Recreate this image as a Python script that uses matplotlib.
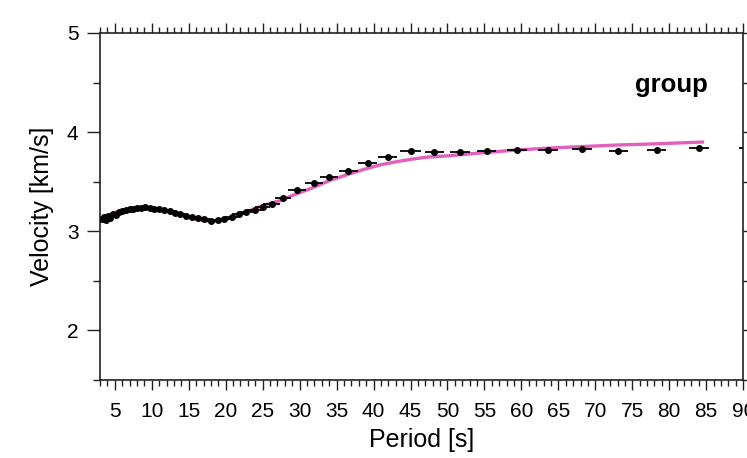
import numpy as np
import matplotlib
matplotlib.use("Agg")
import matplotlib.pyplot as plt
from matplotlib.ticker import MultipleLocator

# observed group velocities (period [s], velocity [km/s], half-width of period bar)
obs_period = [3.2, 3.5, 3.8, 4.1, 4.4, 4.8, 5.2, 5.6, 6.0, 6.5, 7.0, 7.5, 8.0,
              8.5, 9.1, 9.7, 10.3, 11.0, 11.7, 12.4, 13.1, 13.8, 14.6, 15.4,
              16.2, 17.1, 18.0, 18.9, 19.8, 20.8, 21.8, 22.8, 23.9, 25.0, 26.2,
              27.8, 29.6, 31.9, 34.0, 36.6, 39.2, 41.9, 45.0, 48.2, 51.7, 55.3,
              59.4, 63.6, 68.2, 73.1, 78.3, 84.0, 90.8]
obs_vel = [3.12, 3.14, 3.11, 3.15, 3.13, 3.17, 3.16, 3.19, 3.20, 3.21, 3.22,
           3.22, 3.23, 3.23, 3.24, 3.23, 3.22, 3.22, 3.21, 3.20, 3.18, 3.17,
           3.15, 3.14, 3.13, 3.12, 3.10, 3.11, 3.12, 3.14, 3.17, 3.19, 3.21,
           3.24, 3.28, 3.34, 3.42, 3.49, 3.55, 3.61, 3.69, 3.75, 3.81, 3.80,
           3.80, 3.81, 3.82, 3.82, 3.83, 3.81, 3.82, 3.84, 3.84]
obs_err = [0.4, 0.4, 0.4, 0.4, 0.4, 0.4, 0.4, 0.5, 0.5, 0.5, 0.5, 0.5, 0.5,
           0.5, 0.6, 0.6, 0.6, 0.6, 0.6, 0.7, 0.7, 0.7, 0.7, 0.7, 0.8, 0.8,
           0.8, 0.8, 0.9, 0.9, 0.9, 1.0, 1.0, 1.0, 1.1, 1.1, 1.2, 1.2, 1.2,
           1.25, 1.25, 1.25, 1.4, 1.3, 1.3, 1.3, 1.3, 1.3, 1.3, 1.3, 1.3,
           1.35, 1.4]

# predicted dispersion curve
model_period = [3, 4, 5, 6, 7, 8, 9, 10, 11, 12, 13, 14, 15, 16, 17, 18, 19,
                20, 21, 22, 23, 24, 25, 26, 27.4, 29, 31.8, 34, 36.4, 38.5,
                40.9, 43, 45.4, 47.5, 49.9, 54.4, 59.4, 64, 68.4, 73, 77.4,
                81, 84.5]
model_vel = [3.12, 3.16, 3.19, 3.21, 3.22, 3.23, 3.23, 3.22, 3.21, 3.20, 3.18,
             3.16, 3.14, 3.12, 3.11, 3.10, 3.11, 3.12, 3.14, 3.17, 3.20, 3.23,
             3.26, 3.28, 3.31, 3.36, 3.44, 3.51, 3.57, 3.62, 3.67, 3.70, 3.73,
             3.75, 3.76, 3.79, 3.82, 3.84, 3.855, 3.87, 3.88, 3.89, 3.90]

plt.rcParams['font.family'] = ['Liberation Sans', 'DejaVu Sans']

fig = plt.figure(figsize=(7.47, 4.58), dpi=100)
ax = fig.add_axes([0.1339, 0.1703, 0.861, 0.7577])

ax.plot(model_period, model_vel, color='#e35fbc', lw=2.4, zorder=2)
ax.errorbar(obs_period, obs_vel, xerr=obs_err, fmt='o', color='black',
            ms=4, elinewidth=1.3, capsize=0, zorder=3)

ax.set_xlim(3, 90)
ax.set_ylim(1.5, 5)
ax.xaxis.set_major_locator(MultipleLocator(5))
ax.xaxis.set_minor_locator(MultipleLocator(1))
ax.yaxis.set_major_locator(MultipleLocator(1))
ax.yaxis.set_minor_locator(MultipleLocator(0.5))
ax.set_yticks([2, 3, 4, 5])

ax.tick_params(which='both', direction='out', top=True, right=True,
               labeltop=False, labelright=False, width=1, labelsize=15,
               color='#222222')
ax.tick_params(axis='x', which='major', length=7, pad=9)
ax.tick_params(axis='x', which='minor', length=4)
ax.tick_params(axis='y', which='major', length=9.5, pad=6)
ax.tick_params(axis='y', which='minor', length=5)
for s in ax.spines.values():
    s.set_linewidth(1.2)
    s.set_color('#222222')

ax.set_xlabel('Period [s]', fontsize=18, labelpad=5)
ax.set_ylabel('Velocity [km/s]', fontsize=18, labelpad=9)
ax.text(0.945, 0.85, 'group', transform=ax.transAxes, ha='right',
        va='center', fontsize=18.5, fontweight='bold')

fig.savefig('out.png', dpi=100)
